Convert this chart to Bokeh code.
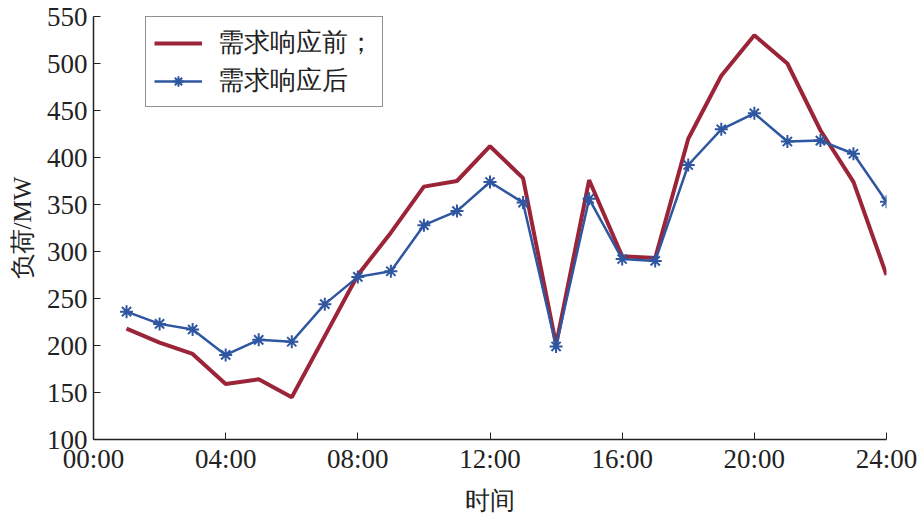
from bokeh.plotting import figure
from bokeh.models import FixedTicker, Legend, LegendItem, ColumnDataSource
from bokeh.embed import file_html
from bokeh.resources import INLINE

hours = list(range(1, 25))
before = [218, 203, 191, 159, 164, 145, 210, 275, 320, 369, 375, 412,
          378, 201, 376, 295, 293, 420, 487, 530, 500, 429, 374, 275]
after = [236, 223, 217, 190, 206, 204, 244, 273, 279, 328, 343, 374,
         352, 199, 356, 292, 290, 392, 430, 447, 417, 418, 404, 353]
x_ticks = [0, 4, 8, 12, 16, 20, 24]
x_tick_labels = ["00:00", "04:00", "08:00", "12:00", "16:00", "20:00", "24:00"]
y_ticks = [100, 150, 200, 250, 300, 350, 400, 450, 500, 550]
series_names = ["需求响应前；", "需求响应后"]

RED = "#9B2438"
BLUE = "#2F56A0"
FONT = "Liberation Serif"

p = figure(width=921, height=516, output_backend="svg", toolbar_location=None,
           x_range=(0, 24), y_range=(100, 550),
           min_border_left=93, min_border_right=35, min_border_top=16, min_border_bottom=76)
p.outline_line_color = None
p.grid.visible = False

src = ColumnDataSource(dict(h=hours, before=before, after=after))
r1 = p.line("h", "before", source=src, line_color=RED, line_width=4)
r2 = p.line("h", "after", source=src, line_color=BLUE, line_width=2.5)
r3 = p.scatter("h", "after", source=src, marker="asterisk", size=13,
               line_color=BLUE, line_width=2)

p.xaxis.ticker = FixedTicker(ticks=x_ticks)
p.xaxis.major_label_overrides = {t: l for t, l in zip(x_ticks, x_tick_labels)}
p.yaxis.ticker = FixedTicker(ticks=y_ticks)

for ax in (p.xaxis[0], p.yaxis[0]):
    ax.major_tick_in = 7
    ax.major_tick_out = 0
    ax.minor_tick_line_color = None
    ax.axis_line_color = "#222222"
    ax.major_tick_line_color = "#222222"
    ax.axis_line_width = 1.5
    ax.major_label_text_font = FONT
    ax.major_label_text_font_size = "27px"
    ax.major_label_text_color = "#222222"
    ax.axis_label_text_font = FONT
    ax.axis_label_text_font_style = "normal"
    ax.axis_label_text_color = "#222222"
    ax.axis_label_text_font_size = "25px"

p.xaxis.axis_label = "时间"
p.yaxis.axis_label = "负荷/MW"
p.xaxis.major_label_standoff = 4
p.yaxis.major_label_standoff = 6
p.xaxis.axis_label_standoff = 10
p.yaxis.axis_label_standoff = 8

legend = Legend(items=[LegendItem(label=series_names[0], renderers=[r1]),
                       LegendItem(label=series_names[1], renderers=[r2, r3])],
                location=(52, 332))
legend.label_text_font = FONT
legend.label_text_font_size = "26px"
legend.label_text_color = "#222222"
legend.glyph_width = 48
legend.glyph_height = 26
legend.label_height = 26
legend.spacing = 3
legend.padding = 8
legend.margin = 0
legend.border_line_color = "#222222"
legend.border_line_width = 1.5
legend.label_standoff = 16
p.add_layout(legend, "center")

open("out.html", "w").write(file_html(p, INLINE))
